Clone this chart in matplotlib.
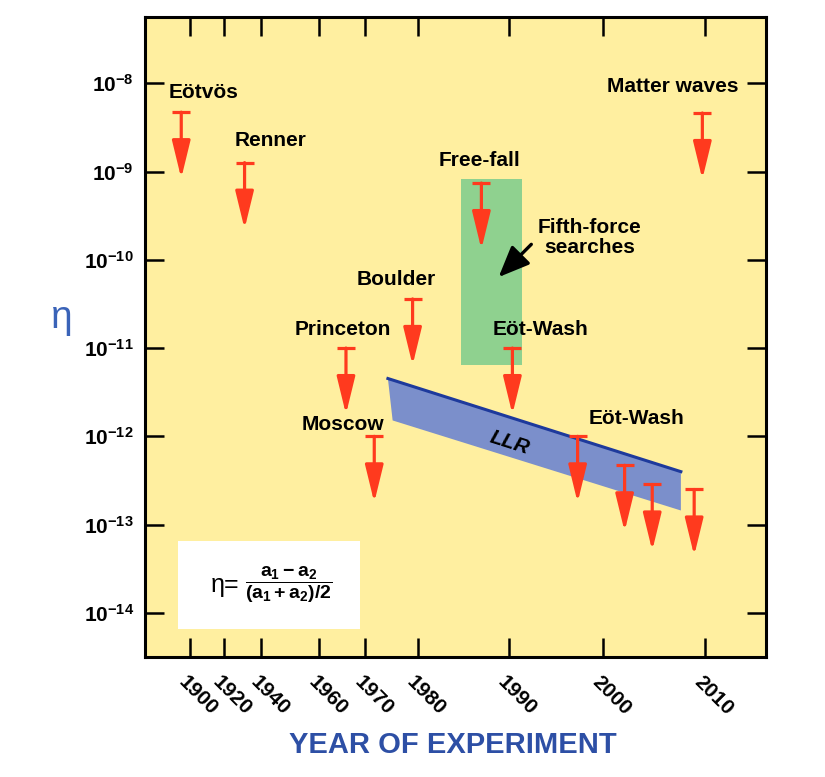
import numpy as np
import matplotlib
matplotlib.use("Agg")
import matplotlib.pyplot as plt
import matplotlib.transforms as mtransforms
from matplotlib.ticker import FixedLocator, NullLocator
from matplotlib.patches import Rectangle, FancyArrowPatch

plt.rcParams['font.family'] = ['Liberation Sans', 'DejaVu Sans']
plt.rcParams['font.weight'] = 'bold'
plt.rcParams['mathtext.fontset'] = 'custom'
plt.rcParams['mathtext.rm'] = 'Liberation Sans:bold'
plt.rcParams['mathtext.it'] = 'Liberation Sans:bold'
plt.rcParams['mathtext.bf'] = 'Liberation Sans:bold'

# --- data -----------------------------------------------------------------
tick_years = [1900, 1920, 1940, 1960, 1970, 1980, 1990, 2000, 2010]
eta_ticks = [1e-14, 1e-13, 1e-12, 1e-11, 1e-10, 1e-9, 1e-8]
# upper limits on eta (arrows), year and limit value
limit_years = [1895, 1931, 1987, 1979, 1965.8, 1971.7, 1990.4, 1997.3, 2002.1, 2004.8, 2008.9, 2009.7]
limit_eta = [4.7e-9, 1.26e-9, 7.4e-10, 3.6e-11, 1.0e-11, 1.0e-12, 1.0e-11, 1.0e-12, 4.7e-13, 2.85e-13, 2.5e-13, 4.6e-9]
# fifth-force searches region
fifth_years = [1984.8, 1991.4]
fifth_eta = [10**-9.08, 10**-11.19]
# lunar laser ranging band (upper edge, lower edge)
llr_years_top = [1974.3, 2007.6]
llr_eta_top = [10**-11.345, 10**-12.40]
llr_years_bot = [2007.6, 1975.2]
llr_eta_bot = [10**-12.84, 10**-11.82]

# broken year axis: tick spacing in the figure is not linear in years
scale_years = [1860] + tick_years + [2030]
scale_pos = [121.7, 189.7, 223.9, 261.4, 319.2, 365.3, 417.8, 508.6, 603.1, 705.4, 909.4]


def fwd(x):
    return np.interp(x, scale_years, scale_pos)


def inv(p):
    return np.interp(p, scale_pos, scale_years)


red = '#FF3A1E'

fig = plt.figure(figsize=(8.25, 7.77), dpi=100)
ax = fig.add_axes([0.1758, 0.1544, 0.7527, 0.8237])
ax.set_facecolor('#FFEFA0')
ax.set_xscale('function', functions=(fwd, inv))
ax.set_yscale('log')
ax.set_xlim(1873.7, 2015.94)
ax.set_ylim(10**-14.5, 10**-7.25)

# fifth-force box
ax.fill([fifth_years[0], fifth_years[1], fifth_years[1], fifth_years[0]],
        [fifth_eta[0], fifth_eta[0], fifth_eta[1], fifth_eta[1]],
        color='#8FD18F', lw=0, zorder=1)

# LLR band
ax.fill(llr_years_top + llr_years_bot, llr_eta_top + llr_eta_bot,
        color='#7B8FCB', lw=0, zorder=1)
ax.plot(llr_years_top, llr_eta_top, color='#1E3A9C', lw=2.2, zorder=2)
ax.text(1990.1, 10**-12.08, 'LLR', rotation=-17.6, style='italic', fontsize=15,
        ha='center', va='center', zorder=3)

# upper-limit arrows
for yr, eta in zip(limit_years, limit_eta):
    ax.plot([yr], [eta], marker='_', ms=13, mew=2.3, color=red, zorder=4)
    ax.add_patch(FancyArrowPatch((yr, eta), (yr, eta * 10**-0.75),
                                 arrowstyle='-|>,head_length=1.15,head_width=0.28',
                                 mutation_scale=20, color=red, lw=2.3,
                                 shrinkA=0, shrinkB=0, zorder=4))

# labels
fs = 15
ax.text(1907.8, 10**-8.11, 'Eötvös', fontsize=fs, ha='center', va='center')
ax.text(1943.3, 10**-8.646, 'Renner', fontsize=fs, ha='center', va='center')
ax.text(1986.8, 10**-8.873, 'Free-fall', fontsize=fs, ha='center', va='center')
ax.text(1998.6, 10**-9.75, 'Fifth-force\nsearches', fontsize=fs, ha='center',
        va='center', linespacing=1.1)
ax.text(1975.8, 10**-10.22, 'Boulder', fontsize=fs, ha='center', va='center')
ax.text(1965.2, 10**-10.79, 'Princeton', fontsize=fs, ha='center', va='center')
ax.text(1993.4, 10**-10.79, 'Eöt-Wash', fontsize=fs, ha='center', va='center')
ax.text(1965.2, 10**-11.866, 'Moscow', fontsize=fs, ha='center', va='center')
ax.text(2003.3, 10**-11.80, 'Eöt-Wash', fontsize=fs, ha='center', va='center')
ax.text(2006.8, 10**-8.034, 'Matter waves', fontsize=fs, ha='center', va='center')
ax.add_patch(FancyArrowPatch((1992.4, 10**-9.825), (1988.9, 10**-10.196),
                             arrowstyle='-|>,head_length=0.95,head_width=0.4',
                             mutation_scale=20, color='black', lw=2.4,
                             shrinkA=0, shrinkB=0, zorder=4))

# formula box
ax.add_patch(Rectangle((0.053, 0.044), 0.293, 0.137, transform=ax.transAxes,
                       facecolor='white', edgecolor='none', zorder=5))
ax.text(0.128, 0.1125, 'η=', transform=ax.transAxes, fontsize=18,
        fontweight='normal', ha='center', va='center', zorder=6)
ax.text(0.231, 0.1125, r'$\dfrac{a_1 - a_2}{(a_1+a_2)/2}$', transform=ax.transAxes,
        fontsize=14, ha='center', va='center', zorder=6)

# axes styling
for s in ax.spines.values():
    s.set_linewidth(2.2)
ax.xaxis.set_major_locator(FixedLocator(tick_years))
ax.xaxis.set_minor_locator(NullLocator())
ax.yaxis.set_major_locator(FixedLocator(eta_ticks))
ax.yaxis.set_minor_locator(NullLocator())
ax.set_yticklabels([r'$10^{%d}$' % round(np.log10(v)) for v in eta_ticks])
ax.tick_params(direction='in', length=14, width=1.8, top=True, right=True,
               labelsize=15)
ax.tick_params(axis='y', pad=8)
ax.tick_params(axis='x', pad=16)
ax.set_xticklabels([str(y) for y in tick_years], rotation=-45, ha='left',
                   va='center', rotation_mode='anchor')
shift = mtransforms.ScaledTranslation(-8 / 100, 0, fig.dpi_scale_trans)
for lab in ax.get_xticklabels():
    lab.set_transform(lab.get_transform() + shift)

fig.text(62 / 825, 1 - 318 / 777, 'η', fontsize=28, fontweight='normal',
         color='#3A63B8', ha='center', va='center')
fig.text(453 / 825, 1 - 745 / 777, 'YEAR OF EXPERIMENT', fontsize=21,
         color='#2D4FA5', ha='center', va='center')

fig.savefig('out.png', dpi=100, facecolor='white')
